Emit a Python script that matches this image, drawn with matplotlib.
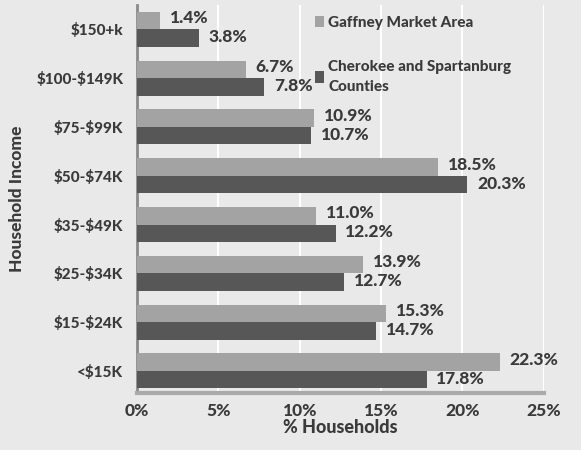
import matplotlib.pyplot as plt
import numpy as np

categories = ['<$15K', '$15-$24K', '$25-$34K', '$35-$49K', '$50-$74K',
              '$75-$99K', '$100-$149K', '$150+k']
gaffney = [22.3, 15.3, 13.9, 11.0, 18.5, 10.9, 6.7, 1.4]
counties = [17.8, 14.7, 12.7, 12.2, 20.3, 10.7, 7.8, 3.8]
xticks = [0, 5, 10, 15, 20, 25]

plt.rcParams['font.family'] = ['Lato', 'DejaVu Sans']
plt.rcParams['text.parse_math'] = False
W = 900  # heavy weight, like the scanned Calibri bold

bg = '#e9e9e9'
light = '#a3a3a3'
dark = '#575757'
txt = '#3a3a3a'

fig = plt.figure(figsize=(5.81, 4.5), dpi=100, facecolor=bg)
ax = fig.add_axes([0.236, 0.127, 0.70, 0.862], facecolor=bg)

y = np.arange(len(categories))
h = 0.36
ax.barh(y + h / 2, gaffney, height=h, color=light, label='Gaffney Market Area', zorder=3)
ax.barh(y - h / 2, counties, height=h, color=dark,
        label='Cherokee and Spartanburg\nCounties', zorder=3)

for i in range(len(categories)):
    ax.text(gaffney[i] + 0.6, y[i] + h / 2 + 0.05, f'{gaffney[i]:.1f}%',
            va='center', ha='left', fontsize=12.5, color=txt, fontweight=W)
    ax.text(counties[i] + 0.6, y[i] - h / 2 + 0.02, f'{counties[i]:.1f}%',
            va='center', ha='left', fontsize=12.5, color=txt, fontweight=W)

ax.set_xlim(0, 25)
ax.set_ylim(-0.45, 7.5)
ax.set_xticks(xticks)
ax.set_xticklabels([f'{t}%' for t in xticks], fontsize=12.5, color=txt, fontweight=W)
ax.set_yticks(y)
ax.set_yticklabels(categories, fontsize=11, color=txt, fontweight=W)
ax.tick_params(axis='y', length=0, pad=10)
ax.tick_params(axis='x', length=0, pad=7)
ax.grid(axis='x', color='white', linewidth=1.5, zorder=0)

for s in ['top', 'right']:
    ax.spines[s].set_visible(False)
ax.spines['left'].set_color('#8a8a8a')
ax.spines['left'].set_linewidth(2)
ax.spines['bottom'].set_color('#aaaaaa')
ax.spines['bottom'].set_linewidth(3)

ax.set_xlabel('% Households', fontsize=13, color=txt, fontweight=W, labelpad=0)
ax.set_ylabel('Household Income', fontsize=12.5, color=txt, fontweight=W, labelpad=8)

leg = ax.legend(loc='upper left', bbox_to_anchor=(0.41, 1.0), frameon=False,
                fontsize=11, handlelength=0.6, handleheight=0.8, handletextpad=0.3,
                labelspacing=2.0, borderaxespad=0.3)
for t in leg.get_texts():
    t.set_color(txt)
    t.set_fontweight(W)
    t.set_linespacing(1.5)

fig.savefig('out.png', dpi=100, facecolor=bg)
